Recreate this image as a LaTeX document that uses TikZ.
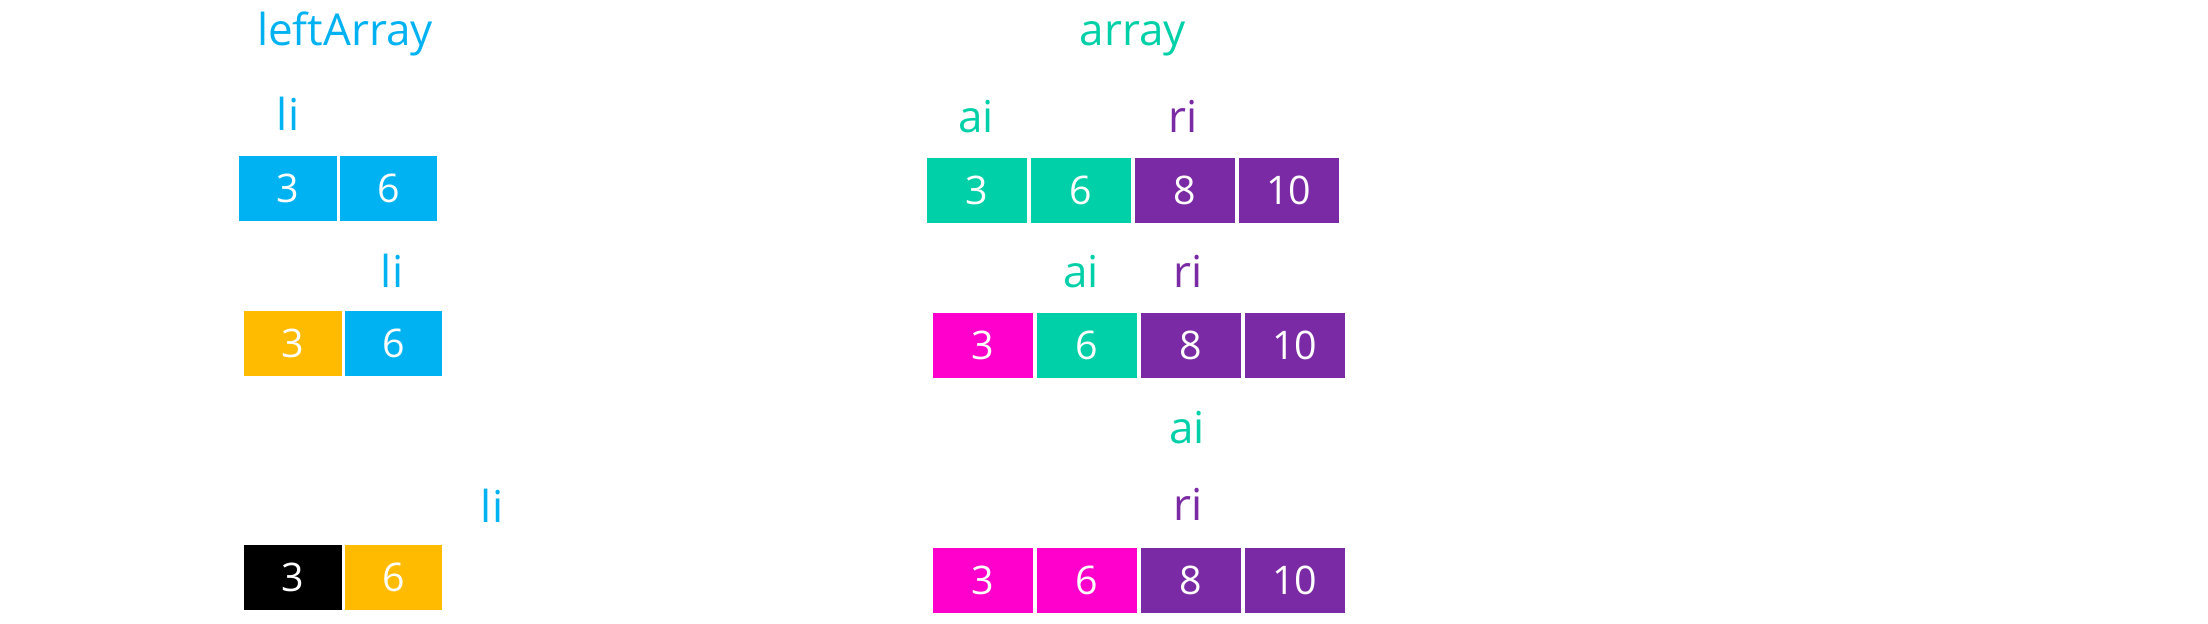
\documentclass[tikz,border=0pt]{standalone}
\usepackage{fontspec}
\setmainfont{Open Sans}
\usetikzlibrary{positioning}

\definecolor{skyblue}{HTML}{00B2F2}
\definecolor{mint}{HTML}{00D0A8}
\definecolor{grape}{HTML}{7A2AA4}
\definecolor{hotpink}{HTML}{FF00CC}
\definecolor{amber}{HTML}{FFBB00}

\begin{document}
\begin{tikzpicture}[x=0.01cm, y=-0.01cm,
    cell/.style={minimum width=0.975cm, minimum height=0.65cm, inner sep=0pt,
                 text=white, font=\fontsize{11.2}{13}\selectfont},
    wide/.style={cell, minimum width=1cm},
    tag/.style={anchor=base, inner sep=0pt, font=\fontsize{12.5}{14}\selectfont}]
    \useasboundingbox (0,0) rectangle (2208,624);

    % Titles
    \node[tag, text=skyblue] (lefttitle) at (345,45) {leftArray};
    \node[tag, text=mint] (arraytitle) at (1133,45) {array};

    % leftArray - step 1
    \node[tag, text=skyblue] (li1) at (288,130) {li};
    \node[cell, fill=skyblue] (l1a) at (287.75,188.5) {3};
    \node[cell, fill=skyblue, right=0.02cm of l1a] (l1b) {6};

    % leftArray - step 2
    \node[tag, text=skyblue] (li2) at (392,287) {li};
    \node[cell, fill=amber] (l2a) at (292.75,343.5) {3};
    \node[cell, fill=skyblue, right=0.02cm of l2a] (l2b) {6};

    % leftArray - step 3
    \node[tag, text=skyblue] (li3) at (492,522) {li};
    \node[cell, fill=black] (l3a) at (292.75,577.5) {3};
    \node[cell, fill=amber, right=0.02cm of l3a] (l3b) {6};

    % array - step 1
    \node[tag, text=mint] (ai1) at (976,132) {ai};
    \node[tag, text=grape] (ri1) at (1183,132) {ri};
    \node[wide, fill=mint] (a1a) at (977,190.5) {3};
    \node[wide, fill=mint, right=0.025cm of a1a] (a1b) {6};
    \node[wide, fill=grape, right=0.025cm of a1b] (a1c) {8};
    \node[wide, fill=grape, right=0.025cm of a1c] (a1d) {10};

    % array - step 2
    \node[tag, text=mint] (ai2) at (1081,287) {ai};
    \node[tag, text=grape] (ri2) at (1188,287) {ri};
    \node[wide, fill=hotpink] (a2a) at (983,345.5) {3};
    \node[wide, fill=mint, right=0.025cm of a2a] (a2b) {6};
    \node[wide, fill=grape, right=0.025cm of a2b] (a2c) {8};
    \node[wide, fill=grape, right=0.025cm of a2c] (a2d) {10};

    % array - step 3
    \node[tag, text=mint] (ai3) at (1187,443) {ai};
    \node[tag, text=grape] (ri3) at (1188,520) {ri};
    \node[wide, fill=hotpink] (a3a) at (983,580.5) {3};
    \node[wide, fill=hotpink, right=0.025cm of a3a] (a3b) {6};
    \node[wide, fill=grape, right=0.025cm of a3b] (a3c) {8};
    \node[wide, fill=grape, right=0.025cm of a3c] (a3d) {10};
\end{tikzpicture}
\end{document}
